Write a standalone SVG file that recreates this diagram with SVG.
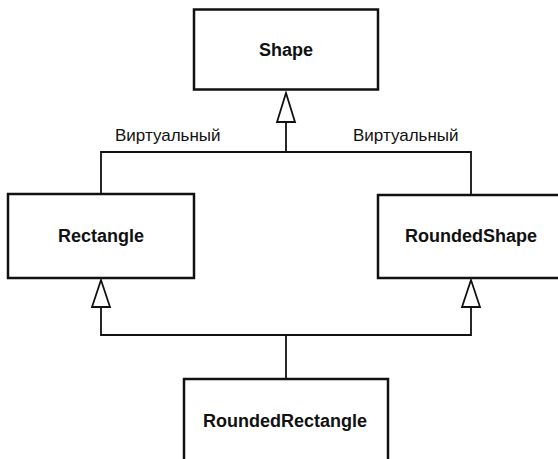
<svg xmlns="http://www.w3.org/2000/svg" width="558" height="459" viewBox="0 0 558 459">
<style>
.box{fill:#fff;stroke:#111;stroke-width:2.5}
.title{font-family:"Liberation Sans",Arial,sans-serif;font-weight:bold;font-size:18px;fill:#111;text-anchor:middle}
.lbl{font-family:"Liberation Sans",Arial,sans-serif;font-size:17px;fill:#111}
.wire{fill:none;stroke:#111;stroke-width:1.8}
.head{fill:#fff;stroke:#111;stroke-width:1.8;stroke-linejoin:miter}
</style>
<rect width="558" height="459" fill="#fff"/>
<g id="connectors">
<polyline class="wire" points="101,194 101,152 471,152 471,195"/>
<line class="wire" x1="286" y1="152" x2="286" y2="122"/>
<polygon class="head" points="286,93 277,122 295,122"/>
<polyline class="wire" points="101,307 101,335 471,335 471,307"/>
<line class="wire" x1="286" y1="335" x2="286" y2="379"/>
<polygon class="head" points="101,280 92,307 110,307"/>
<polygon class="head" points="471,280 462,307 480,307"/>
<text class="lbl" x="115" y="141">Виртуальный</text>
<text class="lbl" x="353" y="141">Виртуальный</text>
</g>
<g id="shape">
<rect class="box" x="194" y="9.5" width="184" height="80"/>
<text class="title" x="286" y="56">Shape</text>
</g>
<g id="rectangle">
<rect class="box" x="8" y="194" width="186" height="84"/>
<text class="title" x="101" y="242">Rectangle</text>
</g>
<g id="roundedshape">
<rect class="box" x="378" y="195" width="200" height="83"/>
<text class="title" x="471" y="242">RoundedShape</text>
</g>
<g id="roundedrectangle">
<rect class="box" x="184" y="379" width="204" height="100"/>
<text class="title" x="285" y="427">RoundedRectangle</text>
</g>
</svg>
